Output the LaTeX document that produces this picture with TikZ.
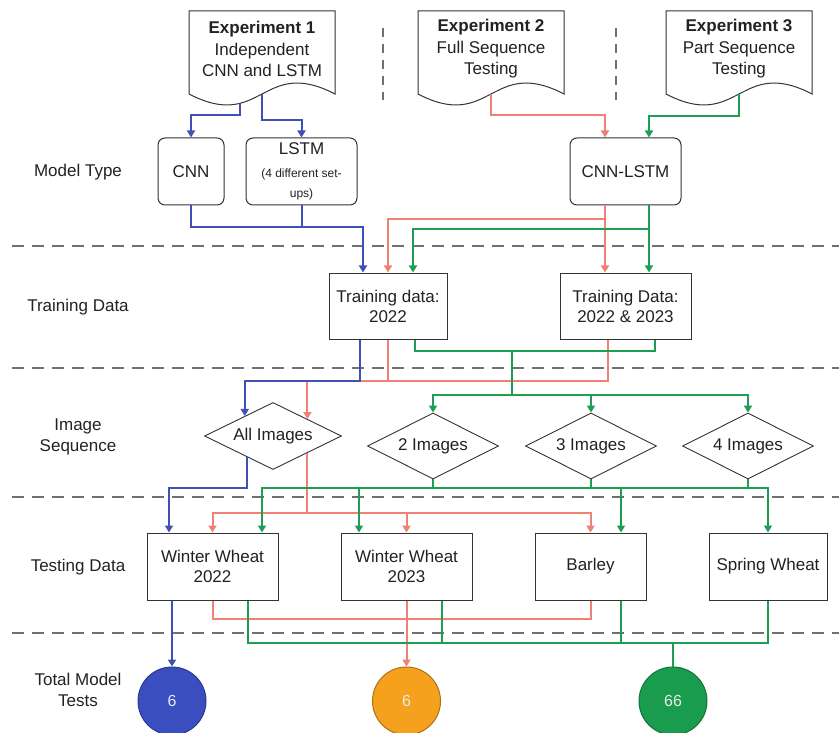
\documentclass[tikz,border=0pt]{standalone}
\usepackage{fontspec}
\setmainfont{Liberation Sans}
\usetikzlibrary{arrows.meta,shapes.geometric,calc}

\definecolor{blueln}{HTML}{3F51B5}
\definecolor{redln}{HTML}{EE8076}
\definecolor{greenln}{HTML}{1E9E52}
\definecolor{sepgray}{HTML}{707070}
\definecolor{edgegray}{HTML}{333333}
\definecolor{txt}{HTML}{222222}
\definecolor{circB}{HTML}{3A4EC0}
\definecolor{circO}{HTML}{F6A11E}
\definecolor{circG}{HTML}{199C4E}

\begin{document}
\begin{tikzpicture}[x=1pt,y=-1pt,
  lbl/.style={font=\fontsize{17}{20}\selectfont,text=txt,align=center},
  box/.style={draw=edgegray,line width=1pt,fill=white,minimum width=#1,minimum height=67pt,
              inner sep=2pt,align=center,font=\fontsize{17}{20}\selectfont,text=txt},
  rbox/.style={box=#1,rounded corners=7pt},
  dia/.style={diamond,aspect=2,draw=edgegray,line width=0.9pt,fill=white,minimum width=#1,
              minimum height=66pt,inner sep=0pt,font=\fontsize{17}{20}\selectfont,text=txt},
  doc/.style={draw=edgegray,line width=1pt,fill=white},
  sepline/.style={draw=sepgray,line width=1.4pt,dash pattern=on 12pt off 8pt},
  vsep/.style={draw=sepgray,line width=1.4pt,dash pattern=on 9pt off 7pt},
  link/.style={line width=2pt},
  tip/.style={-{Triangle[width=8pt,length=7pt]}},
  bl/.style={link,draw=blueln},  blt/.style={bl,tip},
  rd/.style={link,draw=redln},   rdt/.style={rd,tip},
  gn/.style={link,draw=greenln}, gnt/.style={gn,tip},
  total/.style={circle,minimum size=68pt,inner sep=0pt,line width=1pt,text=white!92!black,
                font=\fontsize{16}{19}\selectfont}
]
\useasboundingbox (0,0) rectangle (839,733);

% dashed separators between the stages
\path[sepline] (12,246) -- (839,246);
\path[sepline] (12,368) -- (839,368);
\path[sepline] (12,497) -- (839,497);
\path[sepline] (12,633) -- (839,633);
\path[vsep] (383,28) -- (383,100);
\path[vsep] (616,28) -- (616,100);

% experiment documents
\path[doc] (189,94) -- (189,11) -- (335,11) -- (335,94) .. controls (262,56) and (262,132) .. (189,94) -- cycle;
\path[doc] (418,94) -- (418,11) -- (564,11) -- (564,94) .. controls (491,56) and (491,132) .. (418,94) -- cycle;
\path[doc] (666,94) -- (666,11) -- (812,11) -- (812,94) .. controls (739,56) and (739,132) .. (666,94) -- cycle;
\node[lbl,font=\fontsize{17}{21.5}\selectfont] (e1) at (262,49) {\textbf{Experiment 1}\\Independent\\CNN and LSTM};
\node[lbl,font=\fontsize{17}{21.5}\selectfont] (e2) at (491,49) {\textbf{Experiment 2}\\Full Sequence\\Testing};
\node[lbl,font=\fontsize{17}{21.5}\selectfont] (e3) at (739,49) {\textbf{Experiment 3}\\Part Sequence\\Testing};
\coordinate (e1a) at (240,103);
\coordinate (e1b) at (262,94);
\coordinate (e2a) at (491,94);
\coordinate (e3a) at (739,94);

% row labels
\node[lbl] (lmodel) at (78,172) {Model Type};
\node[lbl] (ltrain) at (78,307) {Training Data};
\node[lbl,font=\fontsize{17}{21}\selectfont] (lseq) at (78,437) {Image\\Sequence};
\node[lbl] (ltest) at (78,567) {Testing Data};
\node[lbl,font=\fontsize{17}{21}\selectfont] (ltotal) at (78,690) {Total Model\\Tests};

% model types
\node[rbox=66pt] (cnn) at (191,171.5) {CNN};
\node[rbox=111pt,text width=105pt,align=flush center] (lstm) at (301.5,171.5)
  {\fontsize{17}{20}\selectfont LSTM\par\fontsize{12}{22.5}\selectfont (4 different set-\par ups)};
\node[rbox=111pt] (cl) at (625.5,171.5) {CNN-LSTM};

% training data
\node[box=118pt,minimum height=66pt] (t22) at (388,306) {Training data:\\2022};
\node[box=131pt,minimum height=66pt] (t23) at (625.5,306) {Training Data:\\2022 \& 2023};

% image sequences
\node[dia=137pt,minimum height=67pt] (ai) at (273,436) {All Images};
\node[dia=131pt] (d2) at (433,446) {2 Images};
\node[dia=131pt] (d3) at (591,446) {3 Images};
\node[dia=131pt] (d4) at (748,446) {4 Images};

% testing data
\node[box=131pt] (ww22) at (212.5,566.5) {Winter Wheat\\2022};
\node[box=131pt] (ww23) at (406.5,566.5) {Winter Wheat\\2023};
\node[box=111pt] (bar) at (590.5,566.5) {Barley};
\node[box=118pt] (sw) at (768,566.5) {Spring Wheat};

% totals
\node[total,fill=circB,draw=circB!75!black] (cB) at (172,701) {6};
\node[total,fill=circO,draw=circO!70!black] (cO) at (406.5,701) {6};
\node[total,fill=circG,draw=circG!75!black] (cG) at (673,701) {66};

% connector ports
\coordinate (clinR) at ($(cl.north)+(-20.5,0)$);
\coordinate (clinG) at ($(cl.north)+(23.5,0)$);
\coordinate (cloutR) at ($(cl.south)+(-20.5,0)$);
\coordinate (cloutG) at ($(cl.south)+(23.5,0)$);
\coordinate (t22inB) at ($(t22.north)+(-25,0)$);
\coordinate (t22inG) at ($(t22.north)+(25,0)$);
\coordinate (t22outB) at ($(t22.south)+(-28,0)$);
\coordinate (t22outG) at ($(t22.south)+(27,0)$);
\coordinate (t23inR) at ($(t23.north)+(-20.5,0)$);
\coordinate (t23inG) at ($(t23.north)+(23.5,0)$);
\coordinate (t23outR) at ($(t23.south)+(-17.5,0)$);
\coordinate (t23outG) at ($(t23.south)+(29.5,0)$);
\coordinate (aiinB) at ($(ai.north)!0.41!(ai.west)$);
\coordinate (aiinR) at ($(ai.north)!0.5!(ai.east)$);
\coordinate (aioutB) at ($(ai.south)!0.38!(ai.west)$);
\coordinate (aioutR) at ($(ai.south)!0.49!(ai.east)$);
\coordinate (ww22inB) at ($(ww22.north)+(-43.5,0)$);
\coordinate (ww22inG) at ($(ww22.north)+(49.5,0)$);
\coordinate (ww22outB) at ($(ww22.south)+(-40.5,0)$);
\coordinate (ww22outG) at ($(ww22.south)+(35.5,0)$);
\coordinate (ww23inG) at ($(ww23.north)+(-47.5,0)$);
\coordinate (ww23outG) at ($(ww23.south)+(35.5,0)$);
\coordinate (barG) at ($(bar.north)+(30.5,0)$);
\coordinate (baroutG) at ($(bar.south)+(30.5,0)$);

% experiments to model types
\draw[blt] (e1a) |- (cnn.north |- 0,115) -- (cnn.north);
\draw[blt] (e1b) |- (lstm.north |- 0,120) -- (lstm.north);
\draw[rdt] (e2a) |- (clinR |- 0,115) -- (clinR);
\draw[gnt] (e3a) |- (clinG |- 0,116) -- (clinG);

% model types to training data
\draw[rdt] (cloutR) -- (t23inR);
\draw[rdt] (cloutR |- 0,219) -| (t22.north);
\draw[gnt] (cloutG) -- (t23inG);
\draw[gnt] (cloutG |- 0,229) -| (t22inG);
\draw[bl] (lstm.south) -- (lstm.south |- 0,227);
\draw[blt] (cnn.south) |- (t22inB |- 0,227) -- (t22inB);

% training data to image sequences
\draw[rd] (t22.south) -- (t22.south |- 0,381);
\draw[rdt] (t23outR) -- (t23outR |- 0,381) -| (aiinR);
\draw[blt] (t22outB) -- (t22outB |- 0,381) -| (aiinB);
\draw[gn] (t22outG) |- (t23outG |- 0,351) -- (t23outG);
\coordinate (gj) at (512,351);
\coordinate (gk) at (512,395);
\draw[gnt] (gj) -- (gk) -| (d2.north);
\draw[gnt] (gk) -| (d3.north);
\draw[gnt] (gk) -| (d4.north);

% image sequences to testing data
\draw[rd] (aioutR) -- (aioutR |- 0,513);
\coordinate (rj) at (aioutR |- 0,513);
\draw[rdt] (rj) -| (ww22.north);
\draw[rdt] (rj) -| (ww23.north);
\draw[rdt] (rj) -| (bar.north);
\draw[blt] (aioutB) -- (aioutB |- 0,488) -| (ww22inB);
\draw[gn] (d2.south) -- (d2.south |- 0,488);
\draw[gn] (d3.south) -- (d3.south |- 0,488);
\draw[gn] (d4.south) -- (d4.south |- 0,488);
\coordinate (gm) at (d2.south |- 0,488);
\draw[gnt] (gm) -| (ww22inG);
\draw[gnt] (gm) -| (ww23inG);
\draw[gnt] (gm) -| (barG);
\draw[gnt] (gm) -| (sw.north);

% testing data to totals
\draw[rd] (ww22.south) |- (bar.south |- 0,619) -- (bar.south);
\draw[rdt] (ww23.south) -- (cO.north);
\draw[gn] (ww22outG) |- (sw.south |- 0,643) -- (sw.south);
\draw[gn] (ww23outG) -- (ww23outG |- 0,643);
\draw[gn] (baroutG) -- (baroutG |- 0,643);
\draw[gn] (cG.north |- 0,643) -- (cG.north);
\draw[blt] (ww22outB) -- (cB.north);
\end{tikzpicture}
\end{document}
